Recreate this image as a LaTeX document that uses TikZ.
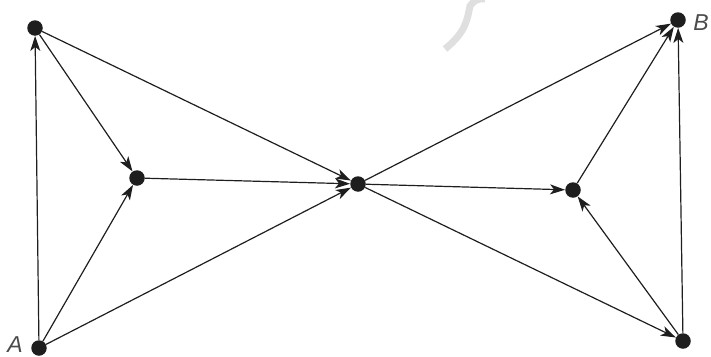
\documentclass[tikz,border=0pt]{standalone}
\usepackage{fontspec}
\setmainfont{Liberation Sans}
\usetikzlibrary{arrows.meta}
\definecolor{ink}{HTML}{1E1E1E}
\tikzset{
  dot/.style={circle,fill=ink,inner sep=0pt,minimum size=15.5pt},
  edge/.style={draw=ink,line width=1.2pt,-{Stealth[length=15pt,width=10pt,inset=4pt]}},
  lbl/.style={text=ink!80,inner sep=0pt,font=\fontsize{23}{23}\selectfont\itshape}
}
\begin{document}
\begin{tikzpicture}[x=1pt,y=-1pt]
\useasboundingbox (0,0) rectangle (711,356);
% faint watermark stroke
\draw[gray!25,line width=7pt] (445,49) .. controls (466,32) and (467,20) .. (470,6) .. controls (474,0) and (479,-2) .. (485,-1);
\node[dot] (A) at (39,348) {};
\node[dot] (TL) at (35,28) {};
\node[dot] (LM) at (137,178) {};
\node[dot] (C) at (358,184) {};
\node[dot] (RM) at (573,190) {};
\node[dot] (B) at (678,20) {};
\node[dot] (BR) at (683,341) {};
\node[lbl,anchor=base] (la) at (15,352) {A};
\node[lbl,anchor=base] (lb) at (701,30) {B};
\draw[edge] (A) -- (TL);
\draw[edge] (A) -- (LM);
\draw[edge] (A) -- (C);
\draw[edge] (TL) -- (LM);
\draw[edge] (TL) -- (C);
\draw[edge] (LM) -- (C);
\draw[edge] (C) -- (B);
\draw[edge] (C) -- (RM);
\draw[edge] (C) -- (BR);
\draw[edge] (RM) -- (B);
\draw[edge] (BR) -- (RM);
\draw[edge] (BR) -- (B);
\end{tikzpicture}
\end{document}
